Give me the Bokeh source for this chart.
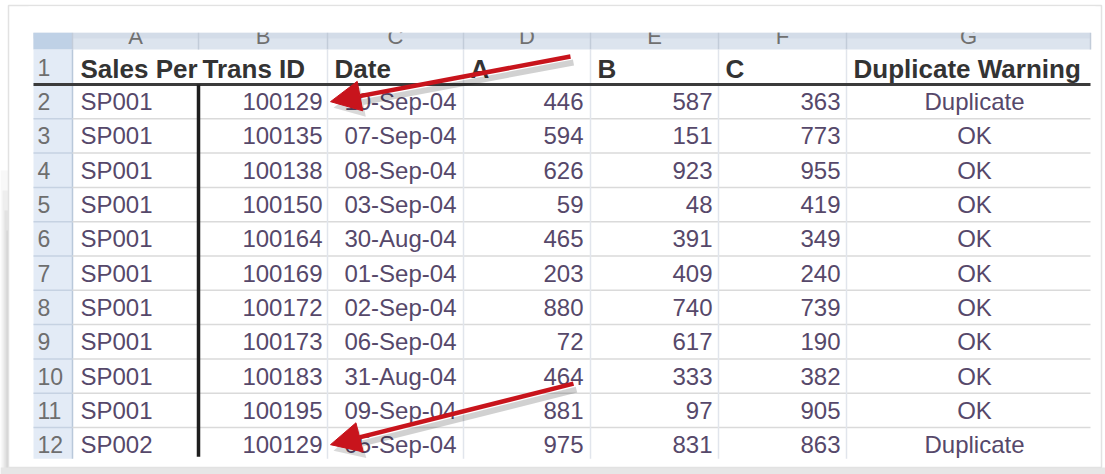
from bokeh.plotting import figure
from bokeh.models import Range1d, Arrow, NormalHead, ColumnDataSource
from bokeh.core.properties import value
from bokeh.embed import file_html
from bokeh.resources import INLINE

# ---------------- data ----------------
col_letters = ["A", "B", "C", "D", "E", "F", "G"]
headers = ["Sales Per", "Trans ID", "Date", "A", "B", "C", "Duplicate Warning"]
sales_person = ["SP001", "SP001", "SP001", "SP001", "SP001", "SP001",
                "SP001", "SP001", "SP001", "SP001", "SP002"]
trans_id = [100129, 100135, 100138, 100150, 100164, 100169,
            100172, 100173, 100183, 100195, 100129]
dates = ["10-Sep-04", "07-Sep-04", "08-Sep-04", "03-Sep-04", "30-Aug-04", "01-Sep-04",
         "02-Sep-04", "06-Sep-04", "31-Aug-04", "09-Sep-04", "05-Sep-04"]
val_a = [446, 594, 626, 59, 465, 203, 880, 72, 464, 881, 975]
val_b = [587, 151, 923, 48, 391, 409, 740, 617, 333, 97, 831]
val_c = [363, 773, 955, 419, 349, 240, 739, 190, 382, 905, 863]
warning = ["Duplicate", "OK", "OK", "OK", "OK", "OK", "OK", "OK", "OK", "OK", "Duplicate"]

# ---------------- layout (pixels) ----------------
W, H = 1105, 474
num_left, num_right = 33, 72
col_edges = [72, 198, 327, 463, 590, 718, 846, 1090]
band_top, band_bot = 32, 49
hdr_bot = 84
row_h = 34.3
n_rows = len(sales_person)
table_bot = hdr_bot + row_h * n_rows - 3
FONT = value("Liberation Sans")
TXT = "#56486a"

p = figure(width=W, height=H, x_range=Range1d(0, W), y_range=Range1d(H, 0),
           output_backend="svg", toolbar_location=None,
           x_axis_location=None, y_axis_location=None, min_border=0)
p.grid.visible = False
p.outline_line_color = None
p.background_fill_color = "white"
p.border_fill_color = "white"

# picture frame and its soft shadow
for i, a in enumerate([0.04, 0.06, 0.08, 0.10]):
    p.quad(left=[2 * i], right=[8], top=[170 + 20 * i], bottom=[H], fill_color="#555555",
           fill_alpha=a, line_color=None)
p.quad(left=[0], right=[W], top=[467], bottom=[H], fill_color="#e6e6e6", line_color=None)
p.quad(left=[8], right=[1101], top=[5], bottom=[467], fill_color="white",
       line_color="#e2e2e2", line_width=1.5)

# column-letter band
p.quad(left=[num_left], right=[col_edges[-1]], top=[band_top], bottom=[band_bot],
       fill_color="#dce4ee", line_color=None)
p.quad(left=[num_left], right=[col_edges[-1]], top=[band_top], bottom=[band_top + 6],
       fill_color="#d3dce8", line_color=None)
p.quad(left=[num_left], right=[num_right], top=[band_top], bottom=[band_bot],
       fill_color="#bfd1e6", line_color=None)
p.segment(x0=col_edges, y0=[band_top] * len(col_edges), x1=col_edges, y1=[band_bot] * len(col_edges),
          line_color="#c2ccd9", line_width=1.5)
letter_x = [(col_edges[i] + col_edges[i + 1]) / 2 for i in range(len(col_letters))]
p.text(x=letter_x, y=[36] * len(col_letters), text=col_letters, text_align="center",
       text_baseline="alphabetic", text_font=FONT, text_font_size="22px", text_color="#707070")
# clip the letters' upper part (as in the screenshot)
p.quad(left=[num_left - 5], right=[col_edges[-1] + 5], top=[6], bottom=[band_top],
       fill_color="white", line_color=None)

# row number column
p.quad(left=[num_left], right=[num_right], top=[band_bot], bottom=[table_bot],
       fill_color="#e3ebf6", line_color=None)
p.segment(x0=[num_right], y0=[band_bot], x1=[num_right], y1=[table_bot], line_color="#b9c8da", line_width=1.5)

row_cy = [hdr_bot + row_h * (i + 0.5) for i in range(n_rows)]
row_lines = [hdr_bot + row_h * (i + 1) for i in range(n_rows - 1)]
p.segment(x0=[num_left] * len(row_lines), y0=row_lines, x1=[num_right] * len(row_lines), y1=row_lines,
          line_color="#c6d2e2", line_width=1.5)
p.segment(x0=[num_right] * len(row_lines), y0=row_lines, x1=[col_edges[-1]] * len(row_lines), y1=row_lines,
          line_color="#dadada", line_width=1.5)
inner = col_edges[2:-1]
p.segment(x0=inner, y0=[band_bot] * len(inner), x1=inner, y1=[table_bot] * len(inner),
          line_color="#e1e5ec", line_width=1.5)

row_labels = [str(i + 1) for i in range(n_rows + 1)]
p.text(x=[37] * (n_rows + 1), y=[67] + row_cy, text=row_labels, text_align="left",
       text_baseline="middle", text_font=FONT, text_font_size="23px", text_color="#6e6e6e")

# header row
hdr_x = [col_edges[i] + 7 for i in range(len(headers))]
hdr_x[0] = 80
hdr_x[1] = 202
p.text(x=hdr_x, y=[68] * len(headers), text=headers, text_align="left", text_baseline="middle",
       text_font=FONT, text_font_size="26px", text_font_style="bold", text_color="#333333")
p.segment(x0=[num_left], y0=[hdr_bot], x1=[col_edges[-1]], y1=[hdr_bot], line_color="#3b3b3b", line_width=3)
p.segment(x0=[col_edges[1]], y0=[hdr_bot], x1=[col_edges[1]], y1=[table_bot - 2], line_color="#1e1e1e", line_width=3.5)

# data cells
src = ColumnDataSource(dict(
    y=row_cy, sp=sales_person, tid=[str(v) for v in trans_id], dt=dates,
    a=[str(v) for v in val_a], b=[str(v) for v in val_b], c=[str(v) for v in val_c], w=warning))
common = dict(source=src, y="y", text_baseline="middle", text_font=FONT,
              text_font_size="24px", text_color=TXT)
p.text(x=80, text="sp", text_align="left", **common)
p.text(x=col_edges[2] - 5, text="tid", text_align="right", **common)
p.text(x=col_edges[3] - 7, text="dt", text_align="right", **common)
p.text(x=col_edges[4] - 7, text="a", text_align="right", **common)
p.text(x=col_edges[5] - 6, text="b", text_align="right", **common)
p.text(x=col_edges[6] - 6, text="c", text_align="right", **common)
p.text(x=974, text="w", text_align="center", **common)

# red arrows pointing at the duplicate transaction IDs
dup_rows = [i for i, w in enumerate(warning) if w == "Duplicate"]
tails = [(col_edges[4] - 20, 56), (col_edges[4] - 17, row_cy[dup_rows[-1]] - 61)]
for r, (tx, ty) in zip(dup_rows, tails):
    hx, hy = col_edges[2] + 3, row_cy[r]
    p.add_layout(Arrow(x_start=tx + 3, y_start=ty + 6, x_end=hx + 3, y_end=hy + 6,
                       line_color="#000000", line_alpha=0.18, line_width=6,
                       end=NormalHead(size=30, fill_color="#000000", fill_alpha=0.15, line_color=None)))
    p.add_layout(Arrow(x_start=tx, y_start=ty, x_end=hx, y_end=hy,
                       line_color="#c8141c", line_width=4.5,
                       end=NormalHead(size=30, fill_color="#c8141c", line_color="#c8141c")))

open("out.html", "w").write(file_html(p, INLINE))
